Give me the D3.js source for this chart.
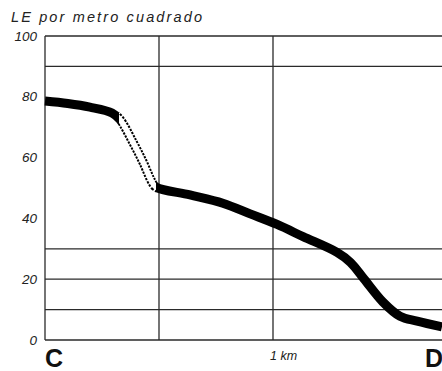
<!DOCTYPE html>
<html><head><meta charset="utf-8">
<script src="https://cdn.jsdelivr.net/npm/d3@7"></script>
<style>body{margin:0;background:#fff}svg{display:block}</style>
</head><body>
<svg id="c" width="442" height="371"></svg>
<script>
// Data
const yTickValues = [0, 20, 40, 60, 80, 100];
const yTickLabels = ["0", "20", "40", "60", "80", "100"];
const hGridValues = [0, 10, 20, 30, 90, 100];
const vGridValues = [0, 0.5, 1];
const xLabelKm = [1];
const xLabelText = ["1 km"];
const endLabels = ["C", "D"];
const yTitle = "LE por metro cuadrado";
// curve (km, LE per m2)
const curveX = [0, 0.10, 0.197, 0.294, 0.329, 0.386, 0.430, 0.469, 0.487, 0.636, 0.78, 0.90, 1.018, 1.132, 1.281, 1.34, 1.40, 1.482, 1.557, 1.632, 1.741];
const curveY = [78.6, 77.8, 76.6, 74.7, 72.5, 65.0, 58.5, 52.0, 50.3, 47.7, 45.0, 41.5, 38.0, 34.0, 28.8, 25.5, 20.0, 12.5, 7.8, 6.2, 4.3];
// dotted stretch (km)
const dottedFrom = 0.325;
const dottedTo = 0.487;

const svg = d3.select("#c");
const x = d3.scaleLinear().domain([0, 1]).range([45, 273]);
const y = d3.scaleLinear().domain([0, 100]).range([340, 36]);
const xMax = x.invert(442);

// grid
svg.append("g").selectAll("line").data(hGridValues).join("line")
  .attr("x1", x(0)).attr("x2", 442)
  .attr("y1", d => y(d)).attr("y2", d => y(d))
  .attr("stroke", "#2a2a2a").attr("stroke-width", 1.3);
svg.append("g").selectAll("line").data(vGridValues).join("line")
  .attr("x1", d => x(d)).attr("x2", d => x(d))
  .attr("y1", y(100)).attr("y2", y(0))
  .attr("stroke", "#2a2a2a").attr("stroke-width", 1.3);

// y tick labels
svg.append("g").selectAll("text").data(yTickValues).join("text")
  .attr("x", 37).attr("y", d => y(d) + 1)
  .attr("text-anchor", "end").attr("dominant-baseline", "middle")
  .attr("font-family", "Liberation Sans, Arial, sans-serif")
  .attr("font-style", "italic").attr("font-size", 13.5).attr("fill", "#222")
  .text((d, i) => yTickLabels[i]);

// title
svg.append("text").attr("x", 11).attr("y", 22)
  .attr("font-family", "Liberation Sans, Arial, sans-serif")
  .attr("font-style", "italic").attr("font-size", 14.5).attr("fill", "#222")
  .attr("textLength", 191).attr("lengthAdjust", "spacing")
  .text(yTitle);

// x labels
svg.append("g").selectAll("text").data(xLabelKm).join("text")
  .attr("x", d => x(d) - 3).attr("y", 360)
  .attr("font-family", "Liberation Sans, Arial, sans-serif")
  .attr("font-style", "italic").attr("font-size", 12.5).attr("fill", "#222")
  .text((d, i) => xLabelText[i]);
svg.append("g").selectAll("text").data([0, xMax]).join("text")
  .attr("x", (d, i) => i === 0 ? x(d) : x(d) - 17).attr("y", 367)
  .attr("font-family", "Liberation Sans, Arial, sans-serif")
  .attr("font-weight", "bold").attr("font-size", 25).attr("fill", "#111")
  .text((d, i) => endLabels[i]);

// curve
const pts = curveX.map((v, i) => [v, curveY[i]]);
const line = d3.line().x(d => x(d[0])).y(d => y(d[1])).curve(d3.curveCatmullRom.alpha(0.5));
const defs = svg.append("defs");
defs.append("clipPath").attr("id", "dot").append("rect")
  .attr("x", x(dottedFrom)).attr("y", 0)
  .attr("width", x(dottedTo) - x(dottedFrom)).attr("height", 371);
svg.append("path").attr("d", line(pts)).attr("fill", "none")
  .attr("stroke", "#000").attr("stroke-width", 9);
const g = svg.append("g").attr("clip-path", "url(#dot)");
g.append("path").attr("d", line(pts)).attr("fill", "none")
  .attr("stroke", "#fff").attr("stroke-width", 11);
g.append("path").attr("d", line(pts)).attr("fill", "none")
  .attr("stroke", "#000").attr("stroke-width", 9.5).attr("stroke-dasharray", "2.2,1.2");
g.append("path").attr("d", line(pts)).attr("fill", "none")
  .attr("stroke", "#fff").attr("stroke-width", 5.5);
</script>
</body></html>
